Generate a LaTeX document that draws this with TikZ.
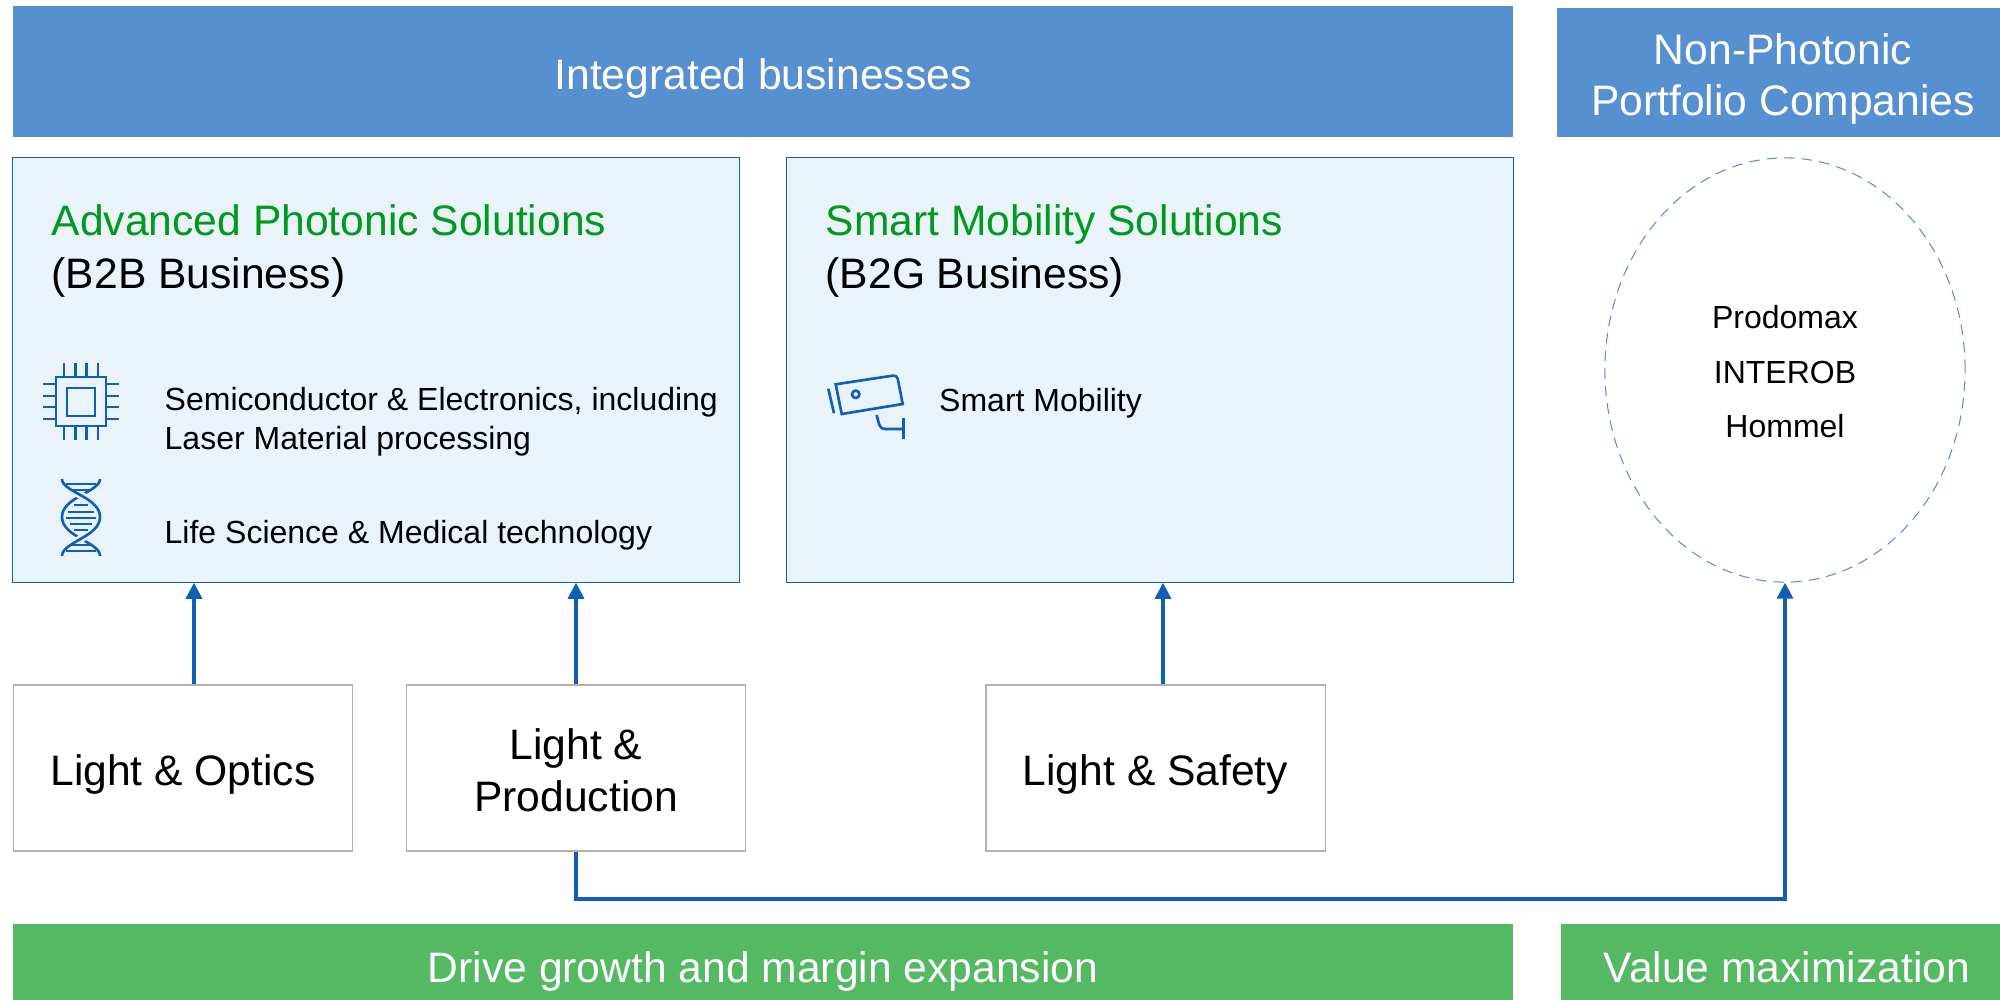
\documentclass[tikz,border=0pt]{standalone}
\usepackage{fontspec}
\setmainfont{Liberation Sans}
\usetikzlibrary{arrows.meta,shapes.geometric}

\definecolor{bandblue}{HTML}{5690D0}
\definecolor{bandgreen}{HTML}{55B963}
\definecolor{panelfill}{HTML}{EAF2FA}
\definecolor{linkblue}{HTML}{0F5FB8}
\definecolor{titlegreen}{HTML}{009A1E}

\tikzset{
  bigtext/.style={font=\fontsize{12.12}{14.6}\selectfont},
  smalltext/.style={font=\fontsize{9.1}{10.9}\selectfont},
  oneline/.style={text height=10pt, text depth=0pt},
  twolines/.style={text height=24.6pt, text depth=0pt},
  band/.style={fill=#1, text=white, inner sep=0pt, align=center, bigtext},
  panel/.style={draw=linkblue, line width=0.35pt, fill=panelfill, inner sep=0pt, minimum height=4.24cm},
  feeder/.style={draw=black!30, line width=0.35pt, inner sep=0pt, minimum width=3.39cm, minimum height=1.66cm, align=center, bigtext},
  link/.style={draw=linkblue, line width=0.9pt, -{Triangle[length=0.16cm, width=0.16cm]}},
  icon/.style={draw=linkblue, line width=0.75pt},
  title/.style={anchor=base west, inner sep=0pt, bigtext},
  label/.style={anchor=base west, inner sep=0pt, align=left, smalltext},
}

\begin{document}
\begin{tikzpicture}[x=0.01cm, y=-0.01cm]
    \useasboundingbox (0,0) rectangle (2000,1000);

    \node[band=bandblue, oneline, minimum width=15cm, minimum height=1.31cm] (integrated) at (763,71.5) {Integrated businesses};
    \node[band=bandblue, twolines, minimum width=4.52cm, minimum height=1.29cm] (nonphotonic) at (1783,72.5) {Non-Photonic\\Portfolio Companies};

    \node[panel, minimum width=7.26cm] (aps) at (376,370) {};
    \node[panel, minimum width=7.26cm] (sms) at (1150,370) {};
    \node[ellipse, draw=bandblue, densely dashed, line width=0.3pt, inner sep=0pt, minimum width=3.6cm, minimum height=4.24cm,
      align=center, text height=38.6pt, text depth=0pt, font=\fontsize{9.1}{15.6}\selectfont] (portfolio) at (1785,370) {Prodomax\\INTEROB\\Hommel};

    \node[title, text=titlegreen] (apstitle) at (51,235) {Advanced Photonic Solutions};
    \node[title] (apssub) at (51,288) {(B2B Business)};
    \node[title, text=titlegreen] (smstitle) at (825,235) {Smart Mobility Solutions};
    \node[title] (smssub) at (825,288) {(B2G Business)};

    \node[label] (semi) at (164,449) {Semiconductor \& Electronics, including\\Laser Material processing};
    \node[label] (life) at (164,543) {Life Science \& Medical technology};
    \node[label] (mobility) at (938.5,411) {Smart Mobility};

    % chip
    \draw[icon] (56,377) rectangle (106,426);
    \draw[icon] (67,388) rectangle (95,416);
    \foreach \x in {64,75.3,86.7,98} {
      \draw[icon] (\x,363) -- (\x,377);
      \draw[icon] (\x,426) -- (\x,440);
    }
    \foreach \y in {384,396,407,419} {
      \draw[icon] (43,\y) -- (56,\y);
      \draw[icon] (106,\y) -- (119,\y);
    }

    % dna
    \draw[icon] (100,479) .. controls (100,492) and (62,497) .. (62,517) .. controls (62,537) and (100,542) .. (100,556);
    \draw[icon, preaction={draw=panelfill, line width=2.2pt}] (62,479) .. controls (62,492) and (100,497) .. (100,517) .. controls (100,537) and (62,542) .. (62,556);
    \foreach \y/\w in {484/15, 490/11, 505/7, 512/13, 518/15, 524/11, 530/7, 545/11, 551/15} {
      \draw[icon] (81-\w,\y) -- (81+\w,\y);
    }

    % camera
    \draw[icon] (835.7,384.3) -- (893,375.6) .. controls (895.5,375.2) and (897.3,376.5) .. (897.8,379) -- (902.7,404) -- (841.7,414) -- cycle;
    \draw[icon] (855.7,394.3) circle (3.7);
    \draw[icon] (828.3,388.7) -- (834,413.3);
    \draw[icon] (876.7,415) .. controls (879,425) and (880,429) .. (885,429) -- (903.3,429);
    \draw[icon] (903.3,418.3) -- (903.3,439.3);

    \node[feeder, oneline] (optics) at (183,768) {Light \& Optics};
    \node[feeder, twolines] (production) at (576,768) {Light \&\\Production};
    \node[feeder, oneline] (safety) at (1155.5,768) {Light \& Safety};

    \draw[link] ([xshift=0.11cm]optics.north) -- ([xshift=0.11cm]optics.north |- aps.south);
    \draw[link] (production.north) -- (production.north |- aps.south);
    \draw[link] ([xshift=0.075cm]safety.north) -- ([xshift=0.075cm]safety.north |- sms.south);

    \coordinate (turn) at (1000,899);
    \draw[link] (production.south) |- (turn) -| (portfolio.south);

    \node[band=bandgreen, text height=11.6pt, text depth=0pt, minimum width=15cm, minimum height=0.76cm] (growth) at (763,962) {Drive growth and margin expansion};
    \node[band=bandgreen, text height=11.6pt, text depth=0pt, minimum width=4.52cm, minimum height=0.76cm] (value) at (1787,962) {Value maximization};
\end{tikzpicture}
\end{document}
